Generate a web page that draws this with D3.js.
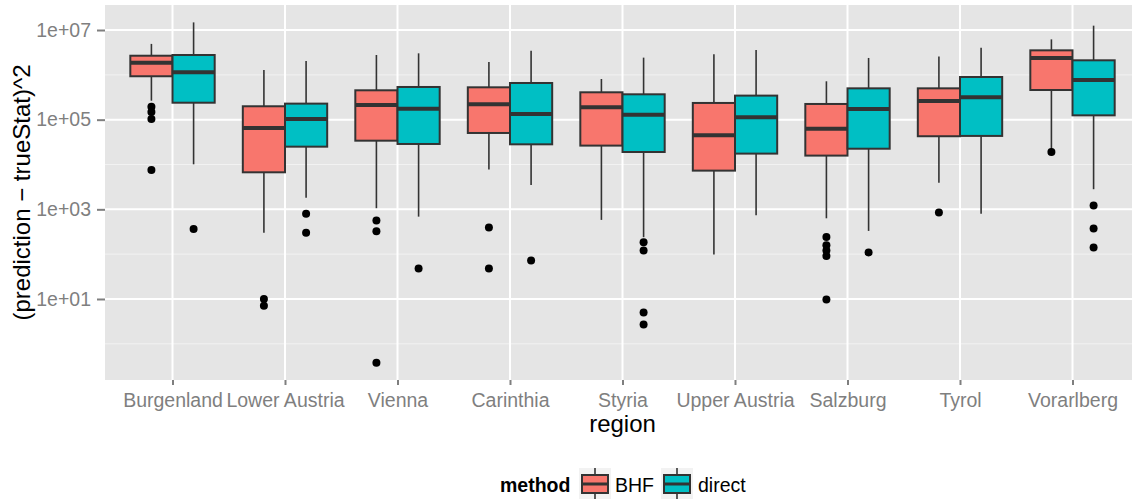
<!DOCTYPE html>
<meta charset="utf-8">

<!-- Load d3.js -->
<script src="https://d3js.org/d3.v7.min.js"></script>

<style>
  body { margin: 0; background: #ffffff; }
  text { font-family: "Liberation Sans", Arial, Helvetica, sans-serif; }
</style>

<!-- Create a div where the graph will take place -->
<div id="my_dataviz"></div>

<script>

// categories
var regions = ["Burgenland", "Lower Austria", "Vienna", "Carinthia", "Styria",
               "Upper Austria", "Salzburg", "Tyrol", "Vorarlberg"];
var methods = ["BHF", "direct"];

// box stats per region: [lower whisker, Q1, median, Q3, upper whisker]
var bhfBoxes = [
  [2.65e5, 9.3e5, 1.87e6, 2.67e6, 4.9e6],
  [302, 6.7e3, 6.5e4, 1.99e5, 1.28e6],
  [1.06e3, 3.4e4, 2.13e5, 4.52e5, 2.77e6],
  [7.7e3, 5.05e4, 2.2e5, 5.27e5, 1.94e6],
  [581, 2.64e4, 1.89e5, 4.08e5, 8.07e5],
  [97.7, 7.3e3, 4.49e4, 2.36e5, 2.87e6],
  [631, 1.58e4, 6.3e4, 2.24e5, 7.18e5],
  [3.94e3, 4.27e4, 2.61e5, 5.0e5, 2.55e6],
  [2.09e4, 4.59e5, 2.38e6, 3.52e6, 6.19e6]
];
var directBoxes = [
  [1.01e4, 2.39e5, 1.14e6, 2.77e6, 1.48e7],
  [1.82e3, 2.5e4, 1.04e5, 2.28e5, 2.04e6],
  [687, 2.87e4, 1.76e5, 5.36e5, 3.02e6],
  [3.5e3, 2.82e4, 1.34e5, 6.58e5, 3.46e6],
  [239, 1.9e4, 1.29e5, 3.68e5, 2.42e6],
  [738, 1.75e4, 1.13e5, 3.44e5, 3.58e6],
  [330, 2.25e4, 1.73e5, 5.0e5, 2.38e6],
  [802, 4.34e4, 3.16e5, 8.95e5, 4.04e6],
  [2.81e3, 1.25e5, 7.67e5, 2.11e6, 1.25e7]
];

// outliers per region
var bhfOutliers = [
  [1.95e5, 1.48e5, 1.04e5, 7.55e3],
  [10.0, 7.1],
  [560, 324, 0.38],
  [391, 47.6],
  [],
  [],
  [243, 158, 120, 91.4, 9.7],
  [845],
  [1.9e4]
];
var directOutliers = [
  [366],
  [802, 302],
  [47.6],
  [71.8],
  [185, 120, 4.98, 2.69],
  [],
  [109],
  [],
  [1.21e3, 372, 140]
];

// y axis ticks
var yMajor = [10, 1e3, 1e5, 1e7];
var yMinor = [1, 100, 1e4, 1e6];
var yTickLabels = ["1e+01", "1e+03", "1e+05", "1e+07"];

var colors = ["#F8766D", "#00BFC4"];

// set the dimensions and margins of the graph
var W = 1132, H = 499;
var panel = {left: 105, right: 1140, top: 5, bottom: 380};

var svg = d3.select("#my_dataviz")
  .append("svg")
    .attr("width", W)
    .attr("height", H);

// scales
var x = d3.scalePoint()
  .domain(regions)
  .range([panel.left, panel.right])
  .padding(0.6);
var step = x.step();

var dodge = d3.scaleBand()
  .domain(methods)
  .range([-step * 0.375, step * 0.375]);

var y = d3.scaleLog()
  .domain([Math.pow(10, -0.807), Math.pow(10, 7.558)])
  .range([panel.bottom, panel.top]);

var color = d3.scaleOrdinal().domain(methods).range(colors);

// panel background
svg.append("rect")
  .attr("x", panel.left)
  .attr("y", panel.top)
  .attr("width", panel.right - panel.left)
  .attr("height", panel.bottom - panel.top)
  .attr("fill", "#E5E5E5");

// grid lines
svg.append("g").selectAll("line")
  .data(yMinor)
  .enter().append("line")
    .attr("x1", panel.left).attr("x2", panel.right)
    .attr("y1", function(d) { return y(d); })
    .attr("y2", function(d) { return y(d); })
    .attr("stroke", "#F2F2F2")
    .attr("stroke-width", 1);

svg.append("g").selectAll("line")
  .data(yMajor)
  .enter().append("line")
    .attr("x1", panel.left).attr("x2", panel.right)
    .attr("y1", function(d) { return y(d); })
    .attr("y2", function(d) { return y(d); })
    .attr("stroke", "#FFFFFF")
    .attr("stroke-width", 2);

svg.append("g").selectAll("line")
  .data(regions)
  .enter().append("line")
    .attr("x1", function(d) { return x(d); })
    .attr("x2", function(d) { return x(d); })
    .attr("y1", panel.top).attr("y2", panel.bottom)
    .attr("stroke", "#FFFFFF")
    .attr("stroke-width", 2);

// Add X axis
var xAxis = svg.append("g")
  .attr("transform", "translate(0," + panel.bottom + ")")
  .call(d3.axisBottom(x).tickSize(5).tickPadding(8));
xAxis.select(".domain").remove();
xAxis.selectAll("line").attr("stroke", "#7F7F7F").attr("stroke-width", 2);
xAxis.selectAll("text")
  .attr("fill", "#7F7F7F")
  .style("font-size", "19.5px")
  .style("font-family", "'Liberation Sans', Arial, sans-serif");

// Add Y axis
var yAxis = svg.append("g")
  .attr("transform", "translate(" + panel.left + ",0)")
  .call(d3.axisLeft(y).tickValues(yMajor)
    .tickFormat(function(d, i) { return yTickLabels[i]; })
    .tickSize(8).tickPadding(6));
yAxis.select(".domain").remove();
yAxis.selectAll("line").attr("stroke", "#7F7F7F").attr("stroke-width", 2);
yAxis.selectAll("text")
  .attr("fill", "#7F7F7F")
  .style("font-size", "19.5px")
  .style("font-family", "'Liberation Sans', Arial, sans-serif");

// boxes, one group per method
var series = [
  {method: "BHF", boxes: bhfBoxes, outliers: bhfOutliers},
  {method: "direct", boxes: directBoxes, outliers: directOutliers}
];

series.forEach(function(s) {
  var g = svg.append("g");
  var bw = dodge.bandwidth();
  var rows = s.boxes.map(function(b, i) { return {region: regions[i], b: b}; });
  var cx = function(d) { return x(d.region) + dodge(s.method) + bw / 2; };

  // whiskers
  g.selectAll(".whisk")
    .data(rows)
    .enter().append("line")
      .attr("x1", cx).attr("x2", cx)
      .attr("y1", function(d) { return y(d.b[0]); })
      .attr("y2", function(d) { return y(d.b[4]); })
      .attr("stroke", "#333333")
      .attr("stroke-width", 1.6);

  // box
  g.selectAll(".box")
    .data(rows)
    .enter().append("rect")
      .attr("x", function(d) { return x(d.region) + dodge(s.method); })
      .attr("width", bw)
      .attr("y", function(d) { return y(d.b[3]); })
      .attr("height", function(d) { return y(d.b[1]) - y(d.b[3]); })
      .attr("fill", color(s.method))
      .attr("stroke", "#333333")
      .attr("stroke-width", 2);

  // median
  g.selectAll(".med")
    .data(rows)
    .enter().append("line")
      .attr("x1", function(d) { return x(d.region) + dodge(s.method); })
      .attr("x2", function(d) { return x(d.region) + dodge(s.method) + bw; })
      .attr("y1", function(d) { return y(d.b[2]); })
      .attr("y2", function(d) { return y(d.b[2]); })
      .attr("stroke", "#333333")
      .attr("stroke-width", 4);

  // outliers
  var pts = [];
  s.outliers.forEach(function(list, i) {
    list.forEach(function(v) { pts.push({region: regions[i], v: v}); });
  });
  g.selectAll(".pt")
    .data(pts)
    .enter().append("circle")
      .attr("cx", cx)
      .attr("cy", function(d) { return y(d.v); })
      .attr("r", 4)
      .attr("fill", "#000000");
});

// axis titles
svg.append("text")
  .attr("x", (panel.left + panel.right) / 2)
  .attr("y", 432)
  .attr("text-anchor", "middle")
  .style("font-size", "24px")
  .attr("fill", "#000000")
  .text("region");

svg.append("text")
  .attr("transform", "translate(30," + ((panel.top + panel.bottom) / 2) + ") rotate(-90)")
  .attr("text-anchor", "middle")
  .style("font-size", "24px")
  .attr("fill", "#000000")
  .text("(prediction \u2212 trueStat)^2");

// legend
var legend = svg.append("g");
legend.append("text")
  .attr("x", 500).attr("y", 492)
  .style("font-size", "19.5px")
  .style("font-weight", "bold")
  .text("method");

var keyX = [579, 661];
var labelX = [615, 698];
methods.forEach(function(m, i) {
  var kx = keyX[i];
  legend.append("rect")
    .attr("x", kx).attr("y", 468)
    .attr("width", 32).attr("height", 31)
    .attr("fill", "#F2F2F2");
  legend.append("line")
    .attr("x1", kx + 16).attr("x2", kx + 16)
    .attr("y1", 468).attr("y2", 499)
    .attr("stroke", "#333333").attr("stroke-width", 1.6);
  legend.append("rect")
    .attr("x", kx + 3).attr("y", 475)
    .attr("width", 26).attr("height", 18)
    .attr("fill", color(m))
    .attr("stroke", "#333333").attr("stroke-width", 2);
  legend.append("line")
    .attr("x1", kx + 3).attr("x2", kx + 29)
    .attr("y1", 484).attr("y2", 484)
    .attr("stroke", "#333333").attr("stroke-width", 3);
  legend.append("text")
    .attr("x", labelX[i]).attr("y", 492)
    .style("font-size", "19.5px")
    .text(m);
});

</script>
